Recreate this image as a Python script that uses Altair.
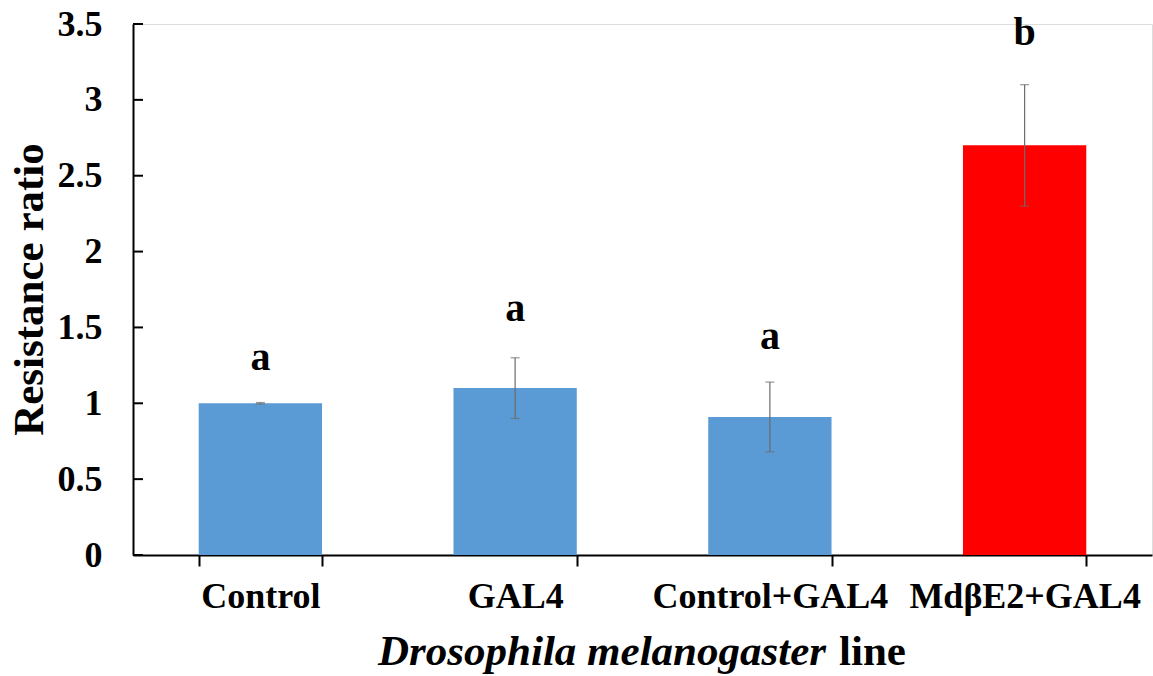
import altair as alt
import pandas as pd

categories = ["Control", "GAL4", "Control+GAL4", "MdβE2+GAL4"]
means = [1.0, 1.1, 0.91, 2.7]
err_low = [0.995, 0.90, 0.68, 2.30]
err_high = [1.005, 1.30, 1.14, 3.10]
letters = ["a", "a", "a", "b"]
letter_pos = [1.22, 1.54, 1.36, 3.36]
colors = ["#5B9BD5", "#5B9BD5", "#5B9BD5", "#FF0000"]
y_ticks = [0, 0.5, 1, 1.5, 2, 2.5, 3, 3.5]
x_title_parts = ["Drosophila melanogaster", "line"]

FONT = "Liberation Serif"

df = pd.DataFrame({
    "cat": categories, "mean": means, "lo": err_low, "hi": err_high,
    "letter": letters, "lpos": letter_pos, "color": colors,
})
ticks_df = pd.DataFrame({"t": y_ticks})

x_enc = alt.X(
    "cat:N", sort=categories,
    scale=alt.Scale(paddingInner=0.516, paddingOuter=0.258),
    axis=alt.Axis(
        title=None, labelAngle=0, tickBand="extent", tickSize=11, tickWidth=2,
        tickColor="black", domainColor="black", domainWidth=2,
        labelFont=FONT, labelFontSize=36, labelFontWeight="bold",
        labelColor="black", labelPadding=13, labelLimit=0,
    ),
)
y_scale = alt.Scale(domain=[0, 3.5], nice=False, zero=True)
y_enc = alt.Y(
    "mean:Q", scale=y_scale,
    axis=alt.Axis(
        title="Resistance ratio", values=y_ticks, format=".1~f", ticks=False,
        grid=False, domainColor="black", domainWidth=2,
        labelFont=FONT, labelFontSize=36, labelFontWeight="bold",
        labelColor="black", labelPadding=31,
        titleFont=FONT, titleFontSize=43, titleFontWeight="bold",
        titleColor="black", titleX=-91, titleY=265, titleAngle=270,
        titleBaseline="alphabetic", titleAlign="center",
    ),
)

base = alt.Chart(df)
bars = base.mark_bar().encode(x=x_enc, y=y_enc, color=alt.Color("color:N", scale=None))
err_line = base.mark_rule(color="#6b6b6b", strokeWidth=1.2).encode(
    x=alt.X("cat:N", sort=categories), y=alt.Y("lo:Q", scale=y_scale), y2="hi:Q"
)
cap_hi = base.mark_tick(color="#6b6b6b", size=9, thickness=1.2).encode(
    x=alt.X("cat:N", sort=categories), y=alt.Y("hi:Q", scale=y_scale)
)
cap_lo = base.mark_tick(color="#6b6b6b", size=9, thickness=1.2).encode(
    x=alt.X("cat:N", sort=categories), y=alt.Y("lo:Q", scale=y_scale)
)
letter_text = base.mark_text(
    font=FONT, fontSize=40, fontWeight="bold", color="black", baseline="alphabetic"
).encode(x=alt.X("cat:N", sort=categories), y=alt.Y("lpos:Q", scale=y_scale), text="letter:N")

yticks = alt.Chart(ticks_df).mark_rule(color="black", strokeWidth=2).encode(
    y=alt.Y("t:Q", scale=y_scale), x=alt.value(0), x2=alt.value(10)
)

title_df1 = pd.DataFrame({"t": [x_title_parts[0]]})
title_df2 = pd.DataFrame({"t": [x_title_parts[1]]})
xt1 = alt.Chart(title_df1).mark_text(
    font=FONT, fontSize=43, fontWeight="bold", fontStyle="italic", color="black",
    align="right", baseline="alphabetic"
).encode(text="t:N", x=alt.value(693), y=alt.value(641))
xt2 = alt.Chart(title_df2).mark_text(
    font=FONT, fontSize=43, fontWeight="bold", color="black",
    align="left", baseline="alphabetic"
).encode(text="t:N", x=alt.value(706), y=alt.value(641))

chart = alt.layer(bars, err_line, cap_hi, cap_lo, letter_text, yticks, xt1, xt2).properties(
    width=1019, height=531,
    autosize=alt.AutoSizeParams(type="none"),
    padding={"left": 133, "top": 24, "right": 1, "bottom": 121},
).configure_view(stroke=None).configure(background="white")

chart.save("out.html", embed_options={"renderer": "svg", "actions": False})
